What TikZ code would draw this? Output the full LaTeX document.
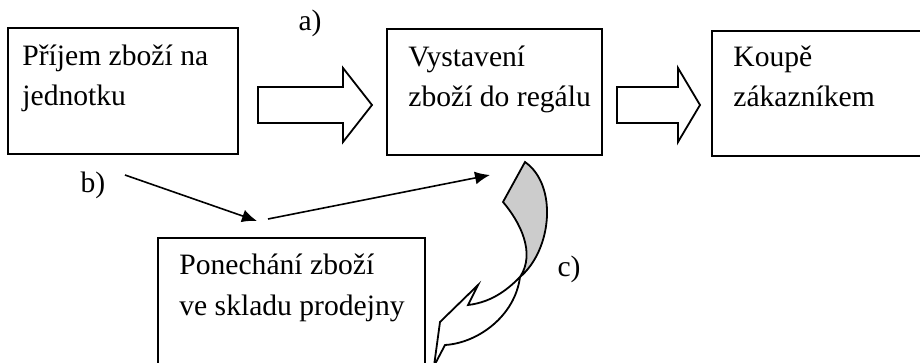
\documentclass[tikz,border=0pt]{standalone}
\usepackage{fontspec}
\setmainfont{Liberation Serif}
\usetikzlibrary{arrows.meta, positioning}

\begin{document}
\begin{tikzpicture}[x=0.5pt, y=-0.5pt, line join=miter,
  box/.style={draw, line width=1pt, inner sep=0pt},
  txt/.style={align=left, inner sep=0pt, anchor=base west,
    font=\fontsize{14.8}{20.3}\selectfont},
  tag/.style={inner sep=0pt, anchor=base, font=\fontsize{14.8}{20.3}\selectfont},
  blockarrow/.style={draw, line width=0.9pt, fill=white},
  flow/.style={line width=0.8pt, -{Latex[length=7.5pt, width=6.5pt]}}]

  \useasboundingbox (0,0) rectangle (920,363);
  \clip (0,0) rectangle (920,363);

  % krabice
  \node[box, minimum width=115pt, minimum height=63pt] (prijem) at (123,91) {};
  \node[box, minimum width=107.5pt, minimum height=63pt] (regal) at (494.5,92) {};
  \node[box, minimum width=114pt, minimum height=62.5pt] (koupe) at (826,93.5) {};
  \node[box, minimum width=133.5pt, minimum height=81pt] (sklad) at (291.5,319) {};

  % texty (kotva = účaří posledního řádku)
  \node[txt] (prijemT) at (22,106) {Příjem zboží na\\jednotku};
  \node[txt] (regalT) at (408,107) {Vystavení\\zboží do regálu};
  \node[txt] (koupeT) at (733,107) {Koupě\\zákazníkem};
  \node[txt] (skladT) at (179,315) {Ponechání zboží\\ve skladu prodejny};

  % tlusté šipky mezi krabicemi
  \foreach \xa/\xb/\xc in {258/343/372, 617/678/700}
    \draw[blockarrow] (\xa,87) -- (\xb,87) -- (\xb,68) -- (\xc,105)
      -- (\xb,142) -- (\xb,123) -- (\xa,123) -- cycle;

  % cesta b) přes sklad
  \coordinate (b1s) at (125,175);
  \coordinate (b1e) at (257,221);
  \coordinate (b2s) at (268,219);
  \coordinate (b2e) at (490,175);
  \draw[flow] (b1s) -- (b1e);
  \draw[flow] (b2s) -- (b2e);

  % stočená šipka c)
  \coordinate (T) at (525,162);
  \coordinate (L) at (503,202);
  \coordinate (X) at (520,277);
  \coordinate (A) at (468,305);
  \coordinate (B) at (478,285);
  \coordinate (C) at (440,322);
  \coordinate (D) at (434,366);
  \coordinate (E) at (445,345);
  \filldraw[fill=white, line width=0.9pt] (X) .. controls (510,287) and (494,302) .. (A)
    -- (B) -- (C) -- (D) -- (E) .. controls (478,343) and (515,316) .. (X);
  \filldraw[fill=black!20, line width=0.9pt] (T) -- (L)
    .. controls (520,222) and (536,253) .. (X)
    .. controls (552,250) and (558,185) .. (T) -- cycle;

  % popisky
  \node[tag] (la) at (310,31) {a)};
  \node[tag] (lb) at (93,193) {b)};
  \node[tag] (lc) at (569,277) {c)};
\end{tikzpicture}
\end{document}
